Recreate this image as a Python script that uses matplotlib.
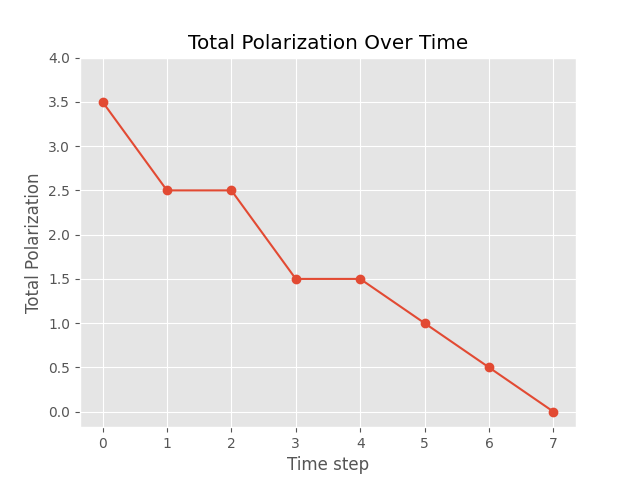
import matplotlib
matplotlib.use('Agg')
import matplotlib.pyplot as plt

steps = [0, 1, 2, 3, 4, 5, 6, 7]
polarization = [3.5, 2.5, 2.5, 1.5, 1.5, 1.0, 0.5, 0.0]

plt.style.use('ggplot')
fig, ax = plt.subplots(figsize=(6.4, 4.8), dpi=100)
ax.plot(steps, polarization, marker='o')
ax.set_ylim(top=4.0)
ax.set_title('Total Polarization Over Time')
ax.set_xlabel('Time step')
ax.set_ylabel('Total Polarization')
fig.savefig('out.png')
